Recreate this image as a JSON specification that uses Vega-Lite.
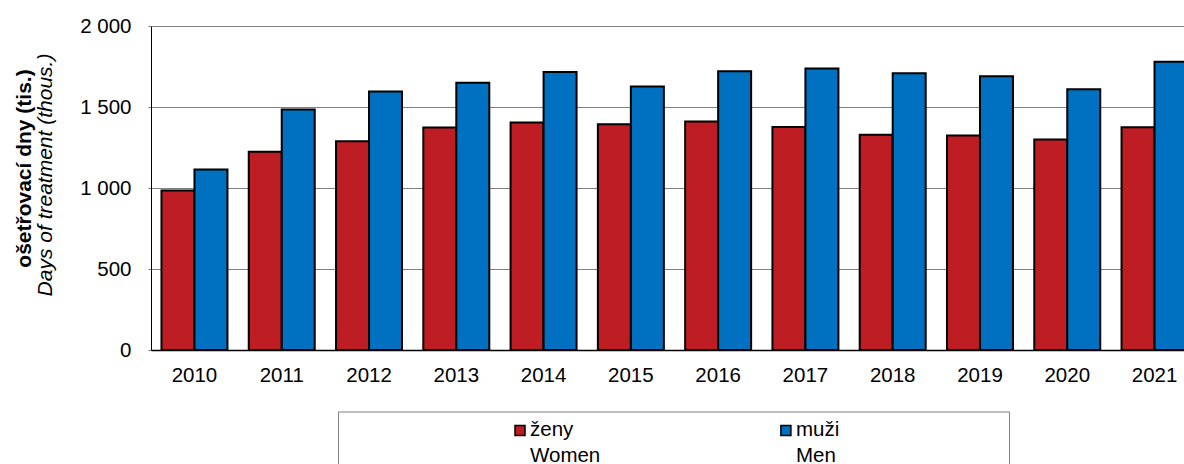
{
  "$schema": "https://vega.github.io/schema/vega-lite/v6.json",
  "autosize": {"type": "none"},
  "width": 1033,
  "height": 324,
  "padding": {"left": 151, "top": 26, "right": 0, "bottom": 114},
  "config": {
    "font": "Liberation Sans",
    "view": {"stroke": null},
    "axis": {"labelColor": "#000", "titleColor": "#000"}
  },
  "data": {
    "values": [
      {"year": "2010", "sex": "ženy", "days": 985},
      {"year": "2010", "sex": "muži", "days": 1114},
      {"year": "2011", "sex": "ženy", "days": 1223},
      {"year": "2011", "sex": "muži", "days": 1484},
      {"year": "2012", "sex": "ženy", "days": 1289},
      {"year": "2012", "sex": "muži", "days": 1595},
      {"year": "2013", "sex": "ženy", "days": 1373},
      {"year": "2013", "sex": "muži", "days": 1649},
      {"year": "2014", "sex": "ženy", "days": 1404},
      {"year": "2014", "sex": "muži", "days": 1716},
      {"year": "2015", "sex": "ženy", "days": 1394},
      {"year": "2015", "sex": "muži", "days": 1626},
      {"year": "2016", "sex": "ženy", "days": 1410},
      {"year": "2016", "sex": "muži", "days": 1721},
      {"year": "2017", "sex": "ženy", "days": 1377},
      {"year": "2017", "sex": "muži", "days": 1737},
      {"year": "2018", "sex": "ženy", "days": 1328},
      {"year": "2018", "sex": "muži", "days": 1708},
      {"year": "2019", "sex": "ženy", "days": 1324},
      {"year": "2019", "sex": "muži", "days": 1690},
      {"year": "2020", "sex": "ženy", "days": 1299},
      {"year": "2020", "sex": "muži", "days": 1610},
      {"year": "2021", "sex": "ženy", "days": 1375},
      {"year": "2021", "sex": "muži", "days": 1780}
    ]
  },
  "layer": [
    {
      "mark": {"type": "bar", "stroke": "#000", "strokeWidth": 2},
      "encoding": {
        "x": {
          "field": "year",
          "type": "nominal",
          "scale": {"range": [0, 1047], "paddingInner": 0.244, "paddingOuter": 0.12},
          "axis": {
            "title": null,
            "labelAngle": 0,
            "labelFontSize": 20.5,
            "labelPadding": 15.5,
            "ticks": false,
            "domainColor": "#000",
            "domainWidth": 1.5,
            "grid": false
          }
        },
        "xOffset": {
          "field": "sex",
          "type": "nominal",
          "sort": ["ženy", "muži"],
          "scale": {"paddingInner": 0, "paddingOuter": 0}
        },
        "y": {
          "field": "days",
          "type": "quantitative",
          "scale": {"domain": [0, 2000], "nice": false},
          "axis": {
            "orient": "left",
            "values": [0, 500, 1000, 1500, 2000],
            "labelExpr": "replace(format(datum.value, ','), ',', ' ')",
            "labelFontSize": 20.5,
            "labelPadding": 17,
            "tickSize": 3,
            "tickColor": "#808080",
            "domainColor": "#000",
            "domainWidth": 1,
            "grid": true,
            "gridColor": "#808080",
            "gridWidth": 1,
            "title": "ošetřovací dny (tis.)",
            "titleFontSize": 21,
            "titleFontWeight": "bold",
            "titleAngle": 270,
            "titleBaseline": "middle",
            "titleAlign": "center",
            "titleX": -127,
            "titleY": 142
          }
        },
        "color": {
          "field": "sex",
          "type": "nominal",
          "scale": {"domain": ["ženy", "muži", "_"], "range": ["#BE1E23", "#0070C0", "transparent"]},
          "legend": {
            "orient": "none",
            "legendX": 187,
            "legendY": 385.5,
            "direction": "horizontal",
            "columns": 3,
            "title": null,
            "padding": 8.5,
            "strokeColor": "#7f7f7f",
            "fillColor": "#ffffff",
            "symbolType": "square",
            "symbolSize": 100,
            "symbolStrokeColor": "#000",
            "symbolStrokeWidth": 1.5,
            "symbolOpacity": 1,
            "symbolOffset": 0,
            "labelOffset": 0,
            "columnPadding": 11.9,
            "labelFontSize": 20.5,
            "labelColor": "#000",
            "labelBaseline": "alphabetic",
            "labelLimit": 1000,
            "labelExpr": "datum.label == 'ženy' ? ['ženy', 'Women'] : datum.label == 'muži' ? ['muži', 'Men'] : ''",
            "encode": {
              "symbols": {
                "update": {
                  "x": {"signal": "datum.index == 2 ? 140.5 : 173.5"},
                  "stroke": {"signal": "datum.index == 2 ? 'transparent' : '#000'"}
                }
              },
              "labels": {
                "update": {
                  "x": {"signal": "datum.index == 2 ? 0 : 183.5"},
                  "dy": {"value": 6},
                  "lineHeight": {"value": 26}
                }
              }
            }
          }
        }
      }
    },
    {
      "mark": {"type": "point", "opacity": 0},
      "encoding": {
        "x": {"field": "year", "type": "nominal"},
        "y": {
          "field": "days",
          "type": "quantitative",
          "axis": {
            "orient": "left",
            "labels": false,
            "ticks": false,
            "domain": false,
            "grid": false,
            "title": "Days of treatment (thous.)",
            "titleFontSize": 21,
            "titleFontWeight": "normal",
            "titleFontStyle": "italic",
            "titleAngle": 270,
            "titleBaseline": "middle",
            "titleAlign": "center",
            "titleX": -106,
            "titleY": 148.5
          }
        }
      }
    }
  ],
  "resolve": {"axis": {"y": "independent"}}
}
